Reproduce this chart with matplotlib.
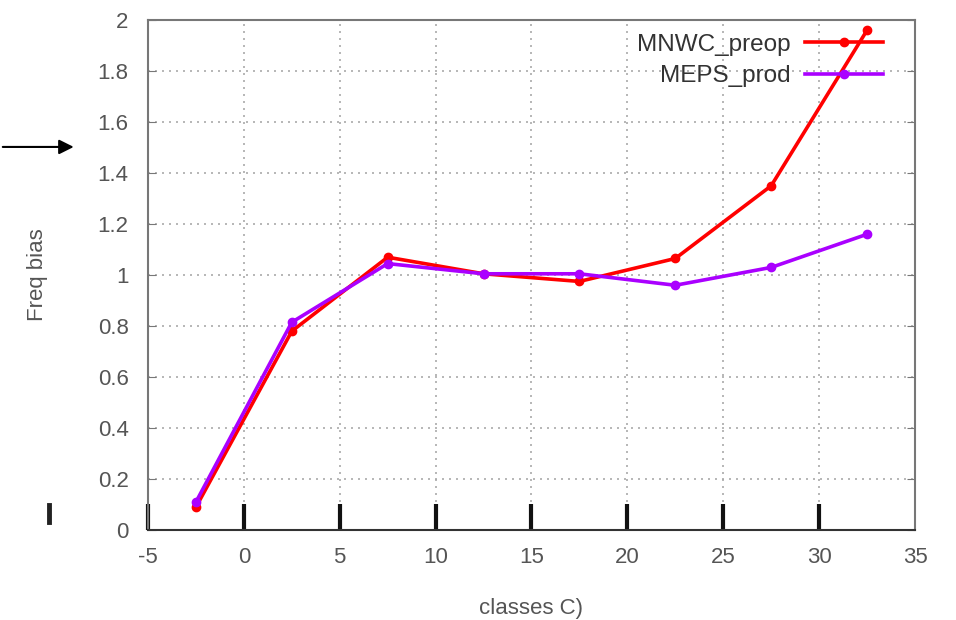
import matplotlib
matplotlib.use("Agg")
import matplotlib.pyplot as plt
from matplotlib.lines import Line2D
from matplotlib.patches import FancyArrowPatch

plt.rcParams["font.family"] = ["Liberation Sans", "DejaVu Sans"]
plt.rcParams["axes.unicode_minus"] = False

# class centres (C) and frequency bias per model
classes = [-2.5, 2.5, 7.5, 12.5, 17.5, 22.5, 27.5, 32.5]
mnwc_preop = [0.09, 0.78, 1.07, 1.005, 0.975, 1.065, 1.35, 1.96]
meps_prod = [0.11, 0.815, 1.045, 1.005, 1.005, 0.96, 1.03, 1.16]

x_ticks = [-5, 0, 5, 10, 15, 20, 25, 30, 35]
y_ticks = [0, 0.2, 0.4, 0.6, 0.8, 1, 1.2, 1.4, 1.6, 1.8, 2]
y_labels = ["0", "0.2", "0.4", "0.6", "0.8", "1", "1.2", "1.4", "1.6", "1.8", "2"]

text_col = "#555555"

fig = plt.figure(figsize=(9.56, 6.2), dpi=100)
ax = fig.add_axes([0.1548, 0.145, 0.8023, 0.8227])

ax.plot(classes, mnwc_preop, color="#ff0000", lw=2.6, marker="o", ms=6,
        label="MNWC_preop")
ax.plot(classes, meps_prod, color="#aa00ff", lw=2.6, marker="o", ms=6,
        label="MEPS_prod")

ax.set_xlim(-5, 35)
ax.set_ylim(0, 2)
ax.set_xticks(x_ticks)
ax.set_yticks(y_ticks)
ax.set_yticklabels(y_labels)
ax.grid(True, color="#aaaaaa", linestyle=(0, (1.2, 3)), lw=1.2)

ax.tick_params(axis="y", direction="in", length=6, color="#777777",
               labelcolor=text_col, labelsize=16, left=True, right=True, pad=14)
ax.tick_params(axis="x", direction="in", length=19, width=3, color="#111111",
               labelcolor=text_col, labelsize=16, top=False, pad=12)
# no thick tick at the right edge in the original
ax.get_xaxis().get_major_ticks()[-1].tick1line.set_visible(False)
for s in ["left", "right", "top"]:
    ax.spines[s].set_color("#777777")
    ax.spines[s].set_linewidth(1.5)
ax.spines["bottom"].set_color("#333333")
ax.spines["bottom"].set_linewidth(1.5)

ax.set_xlabel("classes C)", color=text_col, fontsize=16, labelpad=22)
ax.set_ylabel("Freq bias", color=text_col, fontsize=16, labelpad=36)

leg = ax.legend(loc="upper right", bbox_to_anchor=(0.958, 0.973), frameon=False,
                markerfirst=False, fontsize=17.5, handlelength=3.2,
                labelspacing=0.38, handletextpad=0.6, borderpad=0,
                borderaxespad=0)
for t in leg.get_texts():
    t.set_color("#333333")

# arrow and small bar on the left margin
fig.add_artist(FancyArrowPatch(
    (0.0, 0.763), (0.08, 0.763), transform=fig.transFigure,
    arrowstyle="-|>", mutation_scale=22, color="black", lw=1.5))
fig.add_artist(Line2D([0.051, 0.051], [0.158, 0.186], transform=fig.transFigure,
                      color="#222222", lw=3.5))

fig.savefig("out.png", dpi=100, facecolor="white")
